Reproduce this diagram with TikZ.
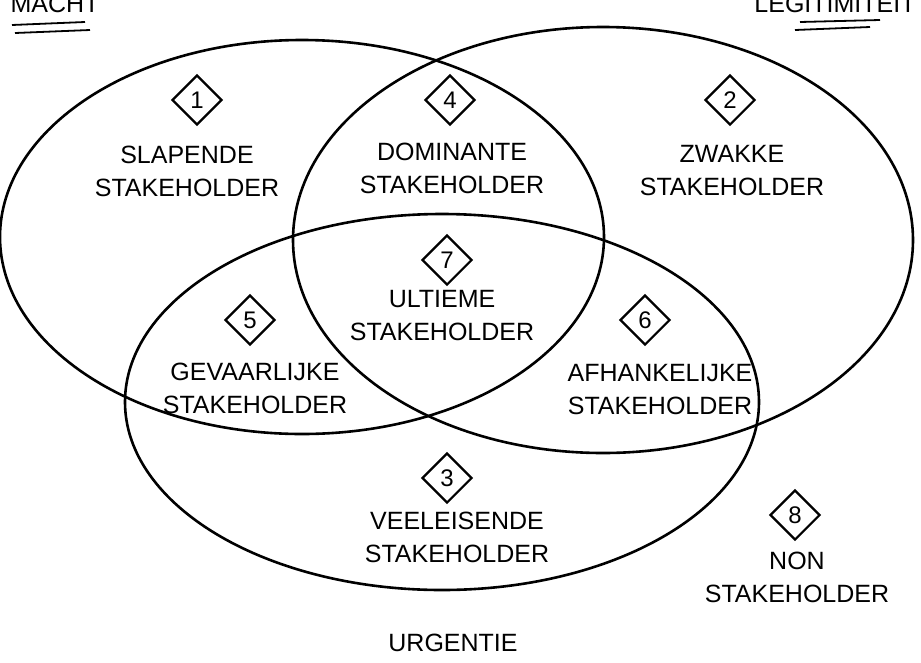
\documentclass[tikz,border=0pt]{standalone}
\usepackage{fontspec}
\setmainfont{Liberation Sans}
\usetikzlibrary{shapes.geometric}
\begin{document}
\begin{tikzpicture}[x=1pt,y=-1pt,
  ell/.style={line width=2.6pt},
  lbl/.style={font=\fontsize{25}{33}\selectfont, align=center, inner sep=0pt},
  dia/.style={diamond, draw, line width=2.2pt, minimum size=50pt, inner sep=0pt, font=\fontsize{24}{24}\selectfont}]
\useasboundingbox (0,0) rectangle (921,662);
\draw[ell] (302,237) ellipse [x radius=302, y radius=197];
\draw[ell] (603,240) ellipse [x radius=310, y radius=213];
\draw[ell] (442,402) ellipse [x radius=317, y radius=188];
\node[lbl, anchor=north] (macht) at (55,-5) {MACHT};
\node[lbl, anchor=north] (legit) at (835,-5) {LEGITIMITEIT};
\draw[line width=1.8pt] (12,25) -- (85,22) (15,33) -- (90,30);
\draw[line width=1.8pt] (800,22) -- (880,20) (795,30) -- (870,27);
\node[dia] (d1) at (197,100) {1};
\node[lbl] (t1) at (187,171) {SLAPENDE\\STAKEHOLDER};
\node[dia] (d4) at (450,100) {4};
\node[lbl] (t4) at (452,168) {DOMINANTE\\STAKEHOLDER};
\node[dia] (d2) at (730,100) {2};
\node[lbl] (t2) at (732,171) {ZWAKKE\\STAKEHOLDER};
\node[dia] (d7) at (447,260) {7};
\node[lbl] (t7) at (442,316) {ULTIEME\\STAKEHOLDER};
\node[dia] (d5) at (250,320) {5};
\node[lbl] (t5) at (255,388) {GEVAARLIJKE\\STAKEHOLDER};
\node[dia] (d6) at (645,320) {6};
\node[lbl] (t6) at (660,390) {AFHANKELIJKE\\STAKEHOLDER};
\node[dia] (d3) at (447,478) {3};
\node[lbl] (t3) at (457,537) {VEELEISENDE\\STAKEHOLDER};
\node[dia] (d8) at (795,515) {8};
\node[lbl] (t8) at (797,577) {NON\\STAKEHOLDER};
\node[lbl] (urg) at (453,643) {URGENTIE};
\end{tikzpicture}
\end{document}
